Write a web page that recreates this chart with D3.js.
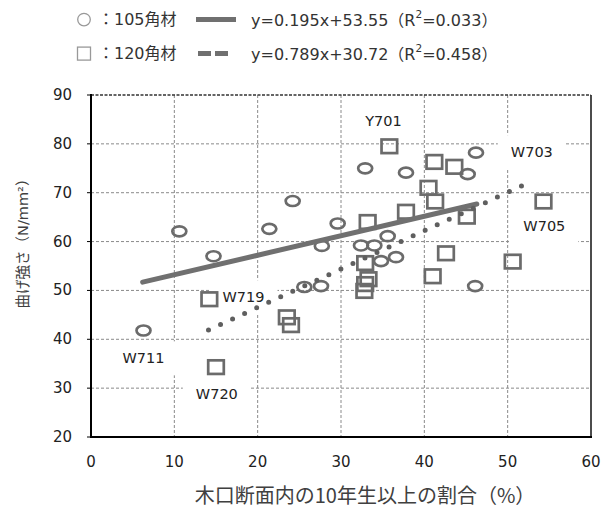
<!DOCTYPE html>
<html>
<head>
<meta charset="utf-8">
<script src="https://cdn.jsdelivr.net/npm/d3@7"></script>
<style>
  body { margin: 0; background: #fff; }
  svg text { font-family: "DejaVu Sans", "Noto Sans CJK JP", sans-serif; }
</style>
</head>
<body>
<svg width="601" height="509"></svg>
<script>
// 105角材 (circles)
const circleX = [6.3, 10.6, 14.7, 21.4, 24.2, 25.6, 27.6, 27.7, 29.6, 32.4, 32.9, 34.0, 34.8, 35.6, 36.6, 37.8, 45.2, 46.2, 46.1];
const circleY = [41.8, 62.1, 57.0, 62.6, 68.3, 50.7, 50.9, 59.1, 63.7, 59.2, 75.0, 59.2, 56.0, 61.1, 56.8, 74.1, 73.8, 78.2, 50.9];

// 120角材 (squares)
const squareX = [14.2, 15.0, 23.5, 24.0, 32.9, 33.2, 33.3, 32.9, 32.8, 35.8, 37.8, 40.5, 41.2, 41.3, 41.0, 42.6, 43.6, 45.1, 50.6, 54.3];
const squareY = [48.2, 34.3, 44.5, 42.9, 55.6, 64.0, 52.3, 51.3, 49.9, 79.5, 66.1, 71.0, 76.3, 68.2, 52.9, 57.6, 75.3, 65.1, 55.9, 68.2];

// trend lines as drawn (end points)
const fit105X = [6.2, 46.3];
const fit105Y = [51.7, 67.7];
const fit120X = [14.1, 53.1];
const fit120Y = [41.9, 72.5];

// point labels
const labelText = ["Y701", "W703", "W705", "W719", "W711", "W720"];
const labelX = [35.1, 52.9, 54.4, 18.3, 6.3, 15.1];
const labelY = [84.7, 78.3, 63.2, 48.6, 36.1, 28.9];

const xTicks = [0, 10, 20, 30, 40, 50, 60];
const yTicks = [20, 30, 40, 50, 60, 70, 80, 90];

const legendNames = ["：105角材", "：120角材"];
const legendEq = ["y=0.195x+53.55", "y=0.789x+30.72"];
const legendR2 = ["0.033", "0.458"];

const svg = d3.select("svg");
const x = d3.scaleLinear().domain([0, 60]).range([91, 591]);
const y = d3.scaleLinear().domain([20, 90]).range([437, 95]);

const markColor = "#6b6b6b";

// grid
const grid = svg.append("g");
grid.selectAll(".vg").data(xTicks.slice(1, -1)).enter().append("line")
  .attr("x1", d => x(d)).attr("x2", d => x(d))
  .attr("y1", y(90)).attr("y2", y(20))
  .attr("stroke", "#8a8a8a").attr("stroke-width", 1).attr("stroke-dasharray", "3,2");
grid.selectAll(".hg").data(yTicks.slice(1, -1)).enter().append("line")
  .attr("x1", x(0)).attr("x2", x(60))
  .attr("y1", d => y(d)).attr("y2", d => y(d))
  .attr("stroke", "#8a8a8a").attr("stroke-width", 1).attr("stroke-dasharray", "3,2");
// top border dashed, right border solid
svg.append("line").attr("x1", x(0)).attr("x2", x(60)).attr("y1", y(90)).attr("y2", y(90))
  .attr("stroke", "#333").attr("stroke-width", 1.5).attr("stroke-dasharray", "3,1.5");
svg.append("line").attr("x1", x(60)).attr("x2", x(60)).attr("y1", y(90)).attr("y2", y(20))
  .attr("stroke", "#111").attr("stroke-width", 1.5);

// point labels with white boxes
const labels = svg.append("g");
labelText.forEach((t, i) => {
  const g = labels.append("g");
  const txt = g.append("text")
    .attr("x", x(labelX[i])).attr("y", y(labelY[i]))
    .attr("text-anchor", "middle").attr("dominant-baseline", "central")
    .attr("font-size", 14.5).attr("fill", "#222").text(t);
  const b = txt.node().getBBox();
  g.insert("rect", "text")
    .attr("x", b.x - 13).attr("y", b.y - 9)
    .attr("width", b.width + 26).attr("height", b.height + 18)
    .attr("fill", "#fff");
});

// markers
svg.append("g").selectAll("ellipse").data(circleX).enter().append("ellipse")
  .attr("cx", d => x(d)).attr("cy", (d, i) => y(circleY[i]))
  .attr("rx", 7).attr("ry", 5)
  .attr("fill", "none").attr("stroke", markColor).attr("stroke-width", 2.7);
svg.append("g").selectAll("rect").data(squareX).enter().append("rect")
  .attr("x", d => x(d) - 7.8).attr("y", (d, i) => y(squareY[i]) - 6.8)
  .attr("width", 15.6).attr("height", 13.6)
  .attr("fill", "none").attr("stroke", markColor).attr("stroke-width", 2.7);

// trend lines
const line = d3.line().x(d => x(d[0])).y(d => y(d[1]));
svg.append("path").datum(fit105X.map((v, i) => [v, fit105Y[i]]))
  .attr("d", line).attr("stroke", "#707070").attr("stroke-width", 5)
  .attr("stroke-linecap", "round").attr("fill", "none");
const p120 = svg.append("path").datum(fit120X.map((v, i) => [v, fit120Y[i]]))
  .attr("d", line).attr("stroke", "#5f5f5f").attr("stroke-width", 5)
  .attr("stroke-linecap", "round").attr("fill", "none");
const len = p120.node().getTotalLength();
p120.attr("stroke-dasharray", "0," + (len / 27));

// axes lines
svg.append("line").attr("x1", x(0)).attr("x2", x(0)).attr("y1", y(90) - 1).attr("y2", y(20) + 1)
  .attr("stroke", "#000").attr("stroke-width", 2);
svg.append("line").attr("x1", x(0) - 1).attr("x2", x(60) + 1).attr("y1", y(20)).attr("y2", y(20))
  .attr("stroke", "#000").attr("stroke-width", 2);
svg.selectAll(".yt").data(yTicks).enter().append("line")
  .attr("x1", x(0) - 4).attr("x2", x(0)).attr("y1", d => y(d)).attr("y2", d => y(d))
  .attr("stroke", "#000").attr("stroke-width", 1);

// tick labels
svg.selectAll(".ytl").data(yTicks).enter().append("text")
  .attr("x", 72).attr("y", d => y(d))
  .attr("text-anchor", "end").attr("dominant-baseline", "central")
  .attr("font-size", 15).attr("fill", "#222").text(d => d);
svg.selectAll(".xtl").data(xTicks).enter().append("text")
  .attr("x", d => x(d)).attr("y", 462)
  .attr("text-anchor", "middle").attr("dominant-baseline", "central")
  .attr("font-size", 15).attr("fill", "#222").text(d => d);

// axis titles
svg.append("text")
  .attr("transform", "translate(22.5,240) rotate(-90)")
  .attr("text-anchor", "middle").attr("dominant-baseline", "central")
  .attr("font-size", 14.5).attr("fill", "#404040").text("曲げ強さ（N/mm²）");
svg.append("text")
  .attr("x", 365).attr("y", 494)
  .attr("text-anchor", "middle").attr("dominant-baseline", "central")
  .attr("font-size", 20).attr("fill", "#404040")
  .style("font-family", "'Noto Sans CJK JP', sans-serif")
  .text("木口断面内の10年生以上の割合（%）");

// legend
const legendRowY = [19.6, 53.6];
const lg = svg.append("g");
lg.append("circle").attr("cx", 84).attr("cy", legendRowY[0]).attr("r", 6.3)
  .attr("fill", "none").attr("stroke", "#999").attr("stroke-width", 1.3);
lg.append("rect").attr("x", 77.5).attr("y", legendRowY[1] - 6.5).attr("width", 13).attr("height", 13)
  .attr("fill", "none").attr("stroke", "#999").attr("stroke-width", 1.3);
lg.append("line").attr("x1", 196).attr("x2", 236).attr("y1", legendRowY[0]).attr("y2", legendRowY[0])
  .attr("stroke", "#707070").attr("stroke-width", 5);
lg.append("line").attr("x1", 198).attr("x2", 231).attr("y1", legendRowY[1]).attr("y2", legendRowY[1])
  .attr("stroke", "#707070").attr("stroke-width", 5).attr("stroke-dasharray", "13,4");
legendNames.forEach((t, i) => {
  lg.append("text").attr("x", 98).attr("y", legendRowY[i])
    .attr("dominant-baseline", "central").attr("font-size", 16).attr("fill", "#333").text(t);
  const eq = lg.append("text").attr("x", 251).attr("y", legendRowY[i])
    .attr("dominant-baseline", "central").attr("font-size", 16).attr("fill", "#333");
  eq.append("tspan").text(legendEq[i] + "（R");
  eq.append("tspan").attr("font-size", 10.5).attr("dy", -6).text("2");
  eq.append("tspan").attr("dy", 6).text("=" + legendR2[i] + "）");
});
</script>
</body>
</html>
